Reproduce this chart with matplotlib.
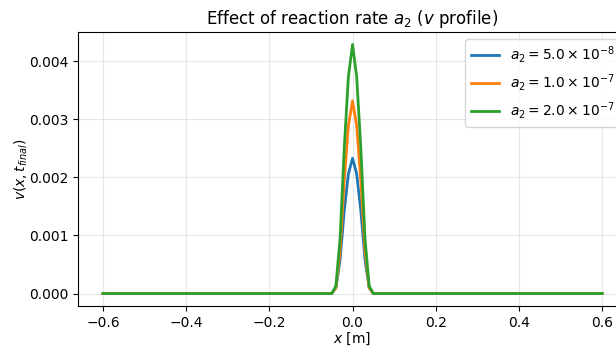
import matplotlib
matplotlib.use("Agg")
import matplotlib.pyplot as plt
import numpy as np

# x grid (dx = 0.01 m) and the v profile near the centre; zero elsewhere
x_grid = np.round(np.arange(-0.60, 0.6001, 0.01), 2)
peak_x = [-0.05, -0.04, -0.03, -0.02, -0.01, 0.00, 0.01, 0.02, 0.03, 0.04, 0.05]

v_a2_5e8 = [0.0, 0.00010, 0.00058, 0.00142, 0.00206, 0.00233,
            0.00206, 0.00142, 0.00058, 0.00010, 0.0]
v_a2_1e7 = [0.0, 0.00010, 0.00073, 0.00193, 0.00289, 0.00332,
            0.00289, 0.00193, 0.00073, 0.00010, 0.0]
v_a2_2e7 = [0.0, 0.00013, 0.00094, 0.00249, 0.00373, 0.00429,
            0.00373, 0.00249, 0.00094, 0.00013, 0.0]

labels = [r'$a_2 = 5.0 \times 10^{-8}$',
          r'$a_2 = 1.0 \times 10^{-7}$',
          r'$a_2 = 2.0 \times 10^{-7}$']
series = [v_a2_5e8, v_a2_1e7, v_a2_2e7]


def full_profile(vals):
    v = np.zeros_like(x_grid)
    for xp, val in zip(peak_x, vals):
        v[np.isclose(x_grid, xp)] = val
    return v


fig = plt.figure(figsize=(6.16, 3.47), dpi=100)
# right edge sits past the canvas, as in the cropped original
ax = fig.add_axes([0.1266, 0.1182, 0.8914, 0.7896])

for vals, lab in zip(series, labels):
    ax.plot(x_grid, full_profile(vals), linewidth=2, label=lab)

ax.set_title(r'Effect of reaction rate $a_2$ ($v$ profile)')
ax.set_xlabel(r'$x$ [m]', labelpad=1)
ax.set_ylabel(r'$v(x, t_{final})$', labelpad=-1)
ax.grid(True, alpha=0.3)
ax.legend(loc='upper right')

fig.savefig("out.png", dpi=100)
